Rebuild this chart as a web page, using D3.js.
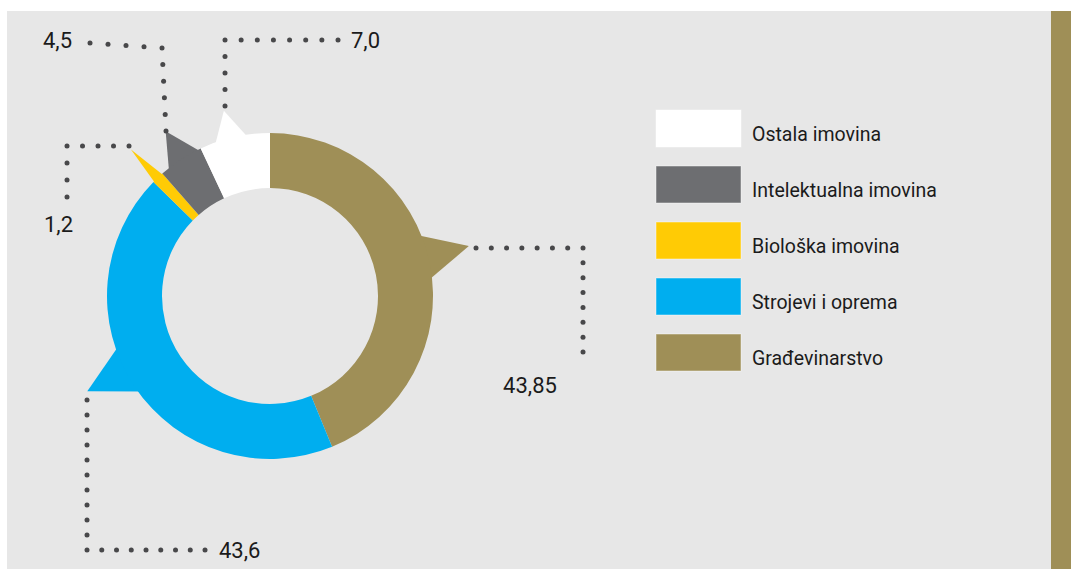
<!DOCTYPE html>
<html>
<head>
<meta charset="utf-8">
<script src="https://cdn.jsdelivr.net/npm/d3@7"></script>
<style>
  html, body { margin: 0; padding: 0; background: #ffffff; }
  svg { display: block; }
  text { font-family: Roboto, "Noto Sans", sans-serif; fill: #1b1b1b; }
</style>
</head>
<body>
<svg id="chart" width="1071" height="569"></svg>
<script>
// Structure of fixed assets by type (shares, %)
const categories = ["Građevinarstvo", "Strojevi i oprema", "Biološka imovina", "Intelektualna imovina", "Ostala imovina"];
const shares = [43.85, 43.6, 1.2, 4.5, 7.0];
const valueLabels = ["43,85", "43,6", "1,2", "4,5", "7,0"];
const palette = ["#9f8f57", "#00aeef", "#ffcb05", "#6d6e71", "#ffffff"];

const W = 1071, H = 569;
const cx = 270, cy = 296;
const innerR = 108, outerR = 163;

// Pointer spike on each segment: angular shift of its centre, half base width (deg), tip radius
const pointerShape = {
  "Građevinarstvo":        { shift: -2.9, half: 8.5, tip: 205 },
  "Strojevi i oprema":     { shift: 6.5,  half: 9.4, tip: 206 },
  "Biološka imovina":      { shift: 0,    half: null, tip: 202 },
  "Intelektualna imovina": { shift: 0.9,  half: 7.0, tip: 195 },
  "Ostala imovina":        { shift: -1.4, half: 6.4, tip: 191 }
};

// Dotted leader routes (relative to the ring centre) and label placement
const leaderRoutes = {
  "Građevinarstvo":        { pts: [[206, -48], [313, -48], [313, 56]], label: [260, 97], anchor: "middle" },
  "Strojevi i oprema":     { pts: [[-183, 104], [-183, 254], [-65, 254]], label: [-51, 262], anchor: "start" },
  "Biološka imovina":      { pts: [[-141, -150], [-203, -150], [-203, -99]], label: [-211.5, -64], anchor: "middle" },
  "Intelektualna imovina": { pts: [[-104, -165], [-108, -248], [-180, -253]], label: [-198, -248], anchor: "end", step: 18 },
  "Ostala imovina":        { pts: [[-45, -190], [-45, -256], [68, -256]], label: [81, -248], anchor: "start" }
};

const data = categories.map((c, i) => ({ category: c, value: shares[i], label: valueLabels[i] }));
const color = d3.scaleOrdinal(categories, palette);

const svg = d3.select("#chart");

// Panel background and right accent strip
svg.append("rect").attr("x", 7).attr("y", 11).attr("width", 1044).attr("height", H - 11).attr("fill", "#e7e7e7");
svg.append("rect").attr("x", 1051).attr("y", 11).attr("width", 20).attr("height", H - 11).attr("fill", color(categories[0]));

const g = svg.append("g").attr("transform", `translate(${cx},${cy})`);

const pie = d3.pie().sort(null).value(d => d.value).startAngle(0).endAngle(2 * Math.PI);
const arcs = pie(data);
const arc = d3.arc().innerRadius(innerR).outerRadius(outerR);
const rad = Math.PI / 180;

// Spikes drawn under the ring so they merge with their segments
g.selectAll("path.spike")
  .data(arcs)
  .join("path")
  .attr("class", "spike")
  .attr("fill", d => color(d.data.category))
  .attr("d", d => {
    const s = pointerShape[d.data.category];
    const mid = (d.startAngle + d.endAngle) / 2 + s.shift * rad;
    const half = s.half == null ? (d.endAngle - d.startAngle) / 2 : s.half * rad;
    const r0 = outerR - 4;
    const a = d3.pointRadial(mid - half, r0);
    const t = d3.pointRadial(mid, s.tip);
    const b = d3.pointRadial(mid + half, r0);
    return `M${a[0]},${a[1]}L${t[0]},${t[1]}L${b[0]},${b[1]}Z`;
  });

g.selectAll("path.slice")
  .data(arcs)
  .join("path")
  .attr("class", "slice")
  .attr("fill", d => color(d.data.category))
  .attr("d", arc);

// Dotted leaders: evenly spaced dots along each leg
function dotsAlong(pts, step) {
  const out = [pts[0]];
  for (let i = 1; i < pts.length; i++) {
    const [x0, y0] = pts[i - 1], [x1, y1] = pts[i];
    const len = Math.hypot(x1 - x0, y1 - y0);
    const n = Math.max(1, Math.round(len / step));
    for (let k = 1; k <= n; k++) out.push([x0 + (x1 - x0) * k / n, y0 + (y1 - y0) * k / n]);
  }
  return out;
}

const leaders = g.selectAll("g.leader")
  .data(arcs)
  .join("g")
  .attr("class", "leader");

leaders.selectAll("circle")
  .data(d => {
    const r = leaderRoutes[d.data.category];
    return dotsAlong(r.pts, r.step || 15.7);
  })
  .join("circle")
  .attr("cx", p => p[0])
  .attr("cy", p => p[1])
  .attr("r", 2.5)
  .attr("fill", "#48484a");

leaders.append("text")
  .attr("x", d => leaderRoutes[d.data.category].label[0])
  .attr("y", d => leaderRoutes[d.data.category].label[1])
  .attr("text-anchor", d => leaderRoutes[d.data.category].anchor)
  .attr("font-size", 22)
  .text(d => d.data.label);

// Legend, listed from the last segment to the first
const legendItems = categories.slice().reverse();
const legendY = d3.scalePoint().domain(legendItems).range([110, 110 + 56 * (legendItems.length - 1)]);

const legend = svg.append("g").selectAll("g")
  .data(legendItems)
  .join("g")
  .attr("transform", d => `translate(656,${legendY(d)})`);

legend.append("rect")
  .attr("width", 85)
  .attr("height", 37)
  .attr("fill", d => color(d))
  .attr("stroke", "rgba(255,255,255,0.45)")
  .attr("stroke-width", 1);

legend.append("text")
  .attr("x", 96)
  .attr("y", 31)
  .attr("font-size", 19.5)
  .text(d => d);
</script>
</body>
</html>
